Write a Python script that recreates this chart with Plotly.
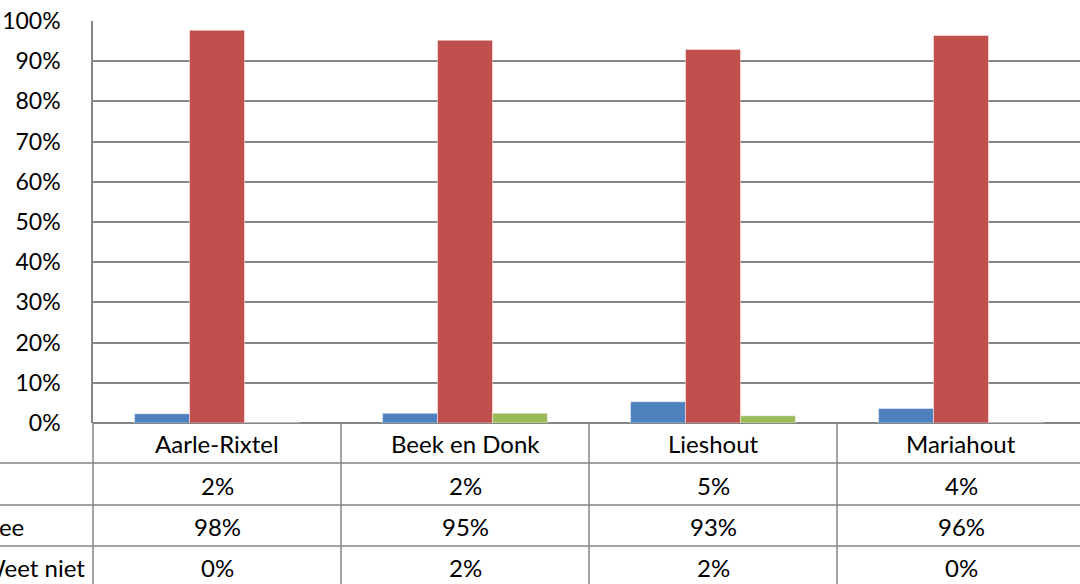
import plotly.graph_objects as go

categories = ["Aarle-Rixtel", "Beek en Donk", "Lieshout", "Mariahout"]
series_names = ["Ja", "Nee", "Weet niet"]
row_labels = ["", "Nee", "Weet niet"]
ja = [2.3, 2.4, 5.3, 3.6]
nee = [97.7, 95.2, 92.9, 96.4]
weet_niet = [0.0, 2.4, 1.8, 0.0]
colors = ["#4F81BD", "#C0504D", "#9BBB59"]
yticks = [0, 10, 20, 30, 40, 50, 60, 70, 80, 90, 100]
yticktext = [f"{v}%" for v in yticks]

W, H = 1080, 584
L, T, B = 93, 21, 161
plot_w = W - L
plot_h = H - T - B
cat_px = 248.0
x0 = -0.5
x1 = x0 + plot_w / cat_px

FONT = "Lato"
FS = 24
GRID = "#868686"

fig = go.Figure()
for name, vals, col in zip(series_names, [ja, nee, weet_niet], colors):
    fig.add_trace(go.Bar(
        x=list(range(len(categories))), y=vals, name=name,
        marker=dict(color=col, line=dict(color="rgba(255,255,255,0.45)", width=1)),
    ))

def px_to_py(py):
    return (H - B - py) / plot_h

def xdata_to_paper(x):
    return (x - x0) / (x1 - x0)

shapes = []
for py in [463, 505, 546]:
    yp = px_to_py(py)
    shapes.append(dict(type="line", xref="paper", yref="paper", x0=-0.2, x1=1.0,
                       y0=yp, y1=yp, line=dict(color=GRID, width=1.5)))
for i in range(len(categories) + 1):
    xp = xdata_to_paper(i - 0.5)
    if xp > 1.0:
        continue
    shapes.append(dict(type="line", xref="paper", yref="paper", x0=xp, x1=xp,
                       y0=0, y1=px_to_py(H + 5), line=dict(color=GRID, width=1.5)))

annotations = []
row_centers = [443, 485, 526, 567]
for i, c in enumerate(categories):
    annotations.append(dict(x=i, y=px_to_py(row_centers[0]), xref="x", yref="paper",
                            xanchor="center", yanchor="middle",
                            text=c, showarrow=False, font=dict(size=FS, color="#000", family=FONT)))
for r, vals in enumerate([ja, nee, weet_niet]):
    for i, v in enumerate(vals):
        annotations.append(dict(x=i, y=px_to_py(row_centers[r + 1]), xref="x", yref="paper",
                                xanchor="center", yanchor="middle",
                                text=f"{round(v)}%", showarrow=False,
                                font=dict(size=FS, color="#000", family=FONT)))
    annotations.append(dict(x=(-21 - L) / plot_w, y=px_to_py(row_centers[r + 1]), xref="paper",
                            yref="paper", xanchor="left", yanchor="middle",
                            text=row_labels[r], showarrow=False,
                            font=dict(size=FS, color="#000", family=FONT)))

fig.update_layout(
    width=W, height=H,
    margin=dict(l=L, r=0, t=T, b=B, pad=0, autoexpand=False),
    paper_bgcolor="white", plot_bgcolor="white",
    showlegend=False,
    barmode="group", bargap=0.335, bargroupgap=0,
    font=dict(family=FONT, size=FS, color="#000"),
    shapes=shapes, annotations=annotations,
    xaxis=dict(range=[x0, x1], showticklabels=False, showgrid=False, zeroline=False,
               showline=False, ticks="", automargin=False),
    yaxis=dict(range=[0, 100], tickmode="array", tickvals=yticks, ticktext=yticktext,
               showgrid=True, automargin=False,
               gridcolor=GRID, gridwidth=1.5, zeroline=True, zerolinecolor=GRID,
               zerolinewidth=1.5, showline=True, linecolor=GRID, linewidth=1.5,
               ticks="", ticklabelstandoff=26, tickfont=dict(size=23, family=FONT, color="#000")),
)

fig.write_html("out.html", config={"displayModeBar": False},
               post_script="document.body.style.margin='0';document.body.style.overflow='hidden';")
